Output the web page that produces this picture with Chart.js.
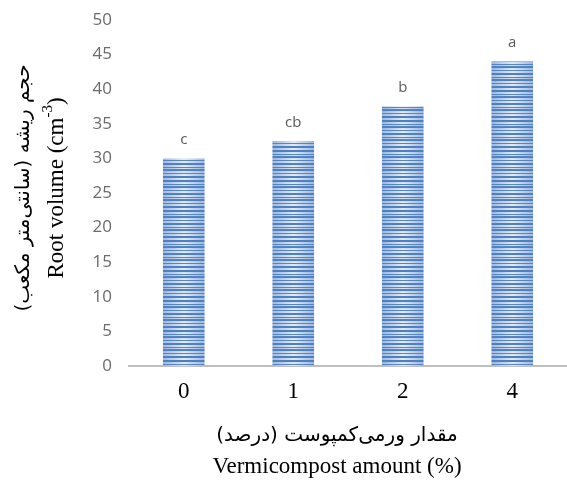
<!DOCTYPE html>
<html>
<head>
<meta charset="utf-8">
<script src="https://cdn.jsdelivr.net/npm/chart.js@4"></script>
<style>
  html, body { margin: 0; padding: 0; background: #fff; }
  #wrap { width: 567px; height: 480px; }
</style>
</head>
<body>
<div id="wrap"><canvas id="rootChart" width="567" height="480"></canvas></div>
<script>
/*=============== DATA ===============*/
const categories = ['0', '1', '2', '4'];
const rootVolume = [30, 32.5, 37.5, 44];
const letters = ['c', 'cb', 'b', 'a'];
const yTicks = [0, 5, 10, 15, 20, 25, 30, 35, 40, 45, 50];

const yTitleFa = 'حجم ریشه (سانتی‌متر مکعب)';
const yTitleEn = 'Root volume (cm';
const xTitleFa = 'مقدار ورمی‌کمپوست (درصد)';
const xTitleEn = 'Vermicompost amount (%)';

const BAR_PCT = 0.38;

/*=============== BAR FILL ===============*/
// striped tile with a soft horizontal gradient, one tile per bar width
function makeTile(w) {
    const c = document.createElement('canvas');
    c.width = Math.round(w); c.height = 30;
    const g = c.getContext('2d');
    const grad = g.createLinearGradient(0, 0, c.width, 0);
    grad.addColorStop(0, '#9fb9e0');
    grad.addColorStop(0.5, '#e3ecf7');
    grad.addColorStop(1, '#9fb9e0');
    g.fillStyle = grad;
    g.fillRect(0, 0, c.width, c.height);
    g.fillStyle = '#4f80c0';
    // uneven line spacing like the original fill
    [[0, 2], [4, 1], [6, 2], [10, 1], [13, 2], [17, 1], [19, 2], [23, 1], [26, 2]].forEach(s => {
        g.fillRect(0, s[0], c.width, s[1]);
    });
    return c;
}

function barFill(ctx) {
    const chart = ctx.chart;
    const xs = chart.scales.x;
    if (!xs || !(xs.width > 10)) return '#7fa2d4';
    const w = xs.width / categories.length * BAR_PCT;
    const left = xs.getPixelForValue(ctx.dataIndex) - w / 2;
    if (!(w >= 1) || !isFinite(left)) return '#7fa2d4';
    const pat = chart.ctx.createPattern(makeTile(w), 'repeat');
    pat.setTransform(new DOMMatrix().translate(left, 0));
    return pat;
}

/*=============== PLUGINS ===============*/
const letterLabels = {
    id: 'letterLabels',
    afterDatasetsDraw(chart) {
        const ctx = chart.ctx;
        const meta = chart.getDatasetMeta(0);
        ctx.save();
        ctx.fillStyle = '#595959';
        ctx.font = '15px "Open Sans", sans-serif';
        ctx.textAlign = 'center';
        ctx.textBaseline = 'bottom';
        meta.data.forEach((bar, i) => {
            ctx.fillText(letters[i], bar.x, bar.y - 11);
        });
        ctx.restore();
    }
};

const axisTitles = {
    id: 'axisTitles',
    afterDraw(chart) {
        const ctx = chart.ctx;
        const fa = '20px "DejaVu Sans", sans-serif';
        const en = '23px "Liberation Serif", serif';
        const sup = '15px "Liberation Serif", serif';
        ctx.save();
        ctx.fillStyle = '#000';
        ctx.textAlign = 'center';
        ctx.textBaseline = 'middle';

        // x title, two lines
        const cx = 337;
        ctx.font = fa;
        ctx.fillText(xTitleFa, cx, 436);
        ctx.font = en;
        ctx.fillText(xTitleEn, cx, 467);

        // y title, rotated, two lines
        ctx.translate(0, 188);
        ctx.rotate(-Math.PI / 2);
        ctx.font = fa;
        ctx.fillText(yTitleFa, 0, 24);
        ctx.font = en;
        const w1 = ctx.measureText(yTitleEn).width;
        const w3 = ctx.measureText(')').width;
        ctx.font = sup;
        const w2 = ctx.measureText('-3').width;
        const x0 = -(w1 + w2 + w3) / 2;
        ctx.textAlign = 'left';
        ctx.font = en;
        ctx.fillText(yTitleEn, x0, 57);
        ctx.fillText(')', x0 + w1 + w2, 57);
        ctx.font = sup;
        ctx.fillText('-3', x0 + w1, 48);
        ctx.restore();
    }
};

/*=============== CHART ===============*/
const ctx = document.getElementById('rootChart').getContext('2d');

new Chart(ctx, {
    type: 'bar',
    data: {
        labels: categories,
        datasets: [{
            data: rootVolume,
            backgroundColor: barFill,
            borderWidth: 0,
            barPercentage: BAR_PCT,
            categoryPercentage: 1
        }]
    },
    options: {
        responsive: false,
        animation: false,
        layout: { padding: { top: 20, right: 0, bottom: 0, left: 0 } },
        plugins: {
            legend: { display: false },
            tooltip: { enabled: false }
        },
        scales: {
            y: {
                min: 0,
                max: 50,
                afterBuildTicks: axis => { axis.ticks = yTicks.map(v => ({ value: v })); },
                afterFit: axis => { axis.width = 129; axis.paddingTop = 0; axis.paddingBottom = 0; },
                grid: { display: false, drawTicks: false },
                border: { display: false },
                ticks: {
                    padding: 17,
                    color: '#6b6b6b',
                    font: { family: '"Open Sans", sans-serif', size: 17 }
                }
            },
            x: {
                afterFit: axis => { axis.height = 114; },
                grid: { display: false, drawTicks: false },
                border: { display: true, color: '#bfbfbf', width: 2 },
                ticks: {
                    padding: 12,
                    color: '#000',
                    font: { family: '"Liberation Serif", serif', size: 23 }
                }
            }
        }
    },
    plugins: [letterLabels, axisTitles]
});
</script>
</body>
</html>
